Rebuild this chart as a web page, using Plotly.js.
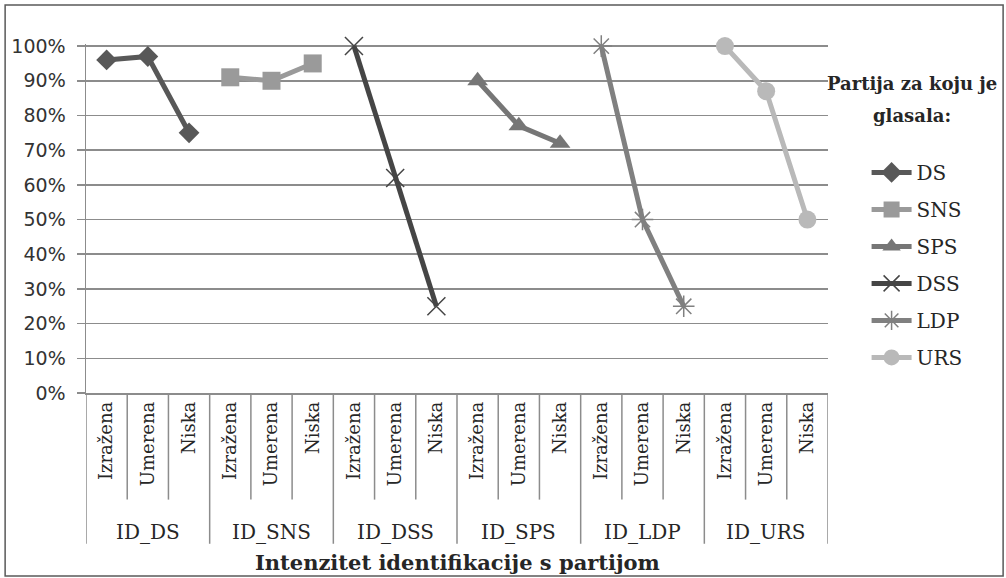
<!DOCTYPE html>
<html>
<head>
<meta charset="utf-8">
<script src="https://cdn.plot.ly/plotly-3.0.1.min.js"></script>
<style>html,body{margin:0;padding:0;background:#fff;}#chart{width:1006px;height:578px;}</style>
</head>
<body>
<div id="chart"></div>
<script>
// Groups in axis order
const groups = ['ID_DS', 'ID_SNS', 'ID_DSS', 'ID_SPS', 'ID_LDP', 'ID_URS'];
const levels = ['Izražena', 'Umerena', 'Niska'];
// Series (party voted for), listed in axis-group order
const seriesNames = ['DS', 'SNS', 'DSS', 'SPS', 'LDP', 'URS'];
const legendOrder = ['DS', 'SNS', 'SPS', 'DSS', 'LDP', 'URS'];
const valDS  = [0.96, 0.97, 0.75];
const valSNS = [0.91, 0.90, 0.95];
const valDSS = [1.00, 0.62, 0.25];
const valSPS = [0.90, 0.77, 0.72];
const valLDP = [1.00, 0.50, 0.25];
const valURS = [1.00, 0.87, 0.50];
const seriesValues = [valDS, valSNS, valDSS, valSPS, valLDP, valURS];

const styles = {
  DS:  {color: '#585858', symbol: 'diamond', size: 16},
  SNS: {color: '#9a9a9a', symbol: 'square', size: 18},
  DSS: {color: '#454545', symbol: 'x-thin-open', size: 18},
  SPS: {color: '#767676', symbol: 'triangle-up', size: 18},
  LDP: {color: '#808080', symbol: 'asterisk-open', size: 18},
  URS: {color: '#b9b9b9', symbol: 'circle', size: 18}
};

const serif = 'DejaVu Serif, Liberation Serif, serif';
const nL = levels.length;
const nCat = groups.length * nL;
const divColor = '#8c8c8c';

const traces = seriesNames.map((name, i) => {
  const st = styles[name];
  return {
    type: 'scatter',
    mode: 'lines+markers',
    name: name,
    legendgroup: name,
    legendrank: legendOrder.indexOf(name) + 1,
    x: levels.map((_, k) => i * nL + k),
    y: seriesValues[i],
    line: {color: st.color, width: 5},
    marker: {symbol: st.symbol, size: st.size, color: st.color,
             line: {color: st.color, width: st.symbol.indexOf('open') >= 0 ? 1.5 : 0}},
    cliponaxis: false
  };
});

// category tick labels
const catIdx = [];
const catText = [];
groups.forEach((g, gi) => levels.forEach((l, k) => { catIdx.push(gi * nL + k); catText.push(l); }));
const xr = [-0.5, nCat - 0.5];

// divider lines between categories (short) and between groups (long)
const shapes = [];
for (let b = 0; b <= nCat; b++) {
  const isGroup = b % nL === 0;
  shapes.push({type: 'line', xref: 'x', yref: 'paper', x0: b - 0.5, x1: b - 0.5,
    y0: 0, y1: isGroup ? -0.432 : -0.3055, line: {color: divColor, width: 1.5}});
}
shapes.push({type: 'rect', xref: 'paper', yref: 'paper', x0: -0.109, x1: 1.236, y0: -0.524, y1: 1.112,
  line: {color: '#595959', width: 1.5}, fillcolor: 'rgba(0,0,0,0)', layer: 'below'});

const annotations = groups.map((g, gi) => ({
  text: g, xref: 'x', yref: 'paper', x: gi * nL + (nL - 1) / 2, y: -0.398,
  xanchor: 'center', yanchor: 'middle', showarrow: false,
  font: {family: serif, size: 20, color: '#262626'}
}));
annotations.push(
  {text: 'Partija za koju je', xref: 'paper', yref: 'paper',
   x: 1.113, y: 0.887, xanchor: 'center', yanchor: 'middle', showarrow: false,
   font: {family: serif, size: 18, color: '#262626', weight: 'bold'}},
  {text: 'glasala:', xref: 'paper', yref: 'paper',
   x: 1.113, y: 0.795, xanchor: 'center', yanchor: 'middle', showarrow: false,
   font: {family: serif, size: 18, color: '#262626', weight: 'bold'}},
  {text: 'Intenzitet identifikacije s partijom', xref: 'paper', yref: 'paper',
   x: 0.5, y: -0.487, xanchor: 'center', yanchor: 'middle', showarrow: false,
   font: {family: serif, size: 21, color: '#262626', weight: 'bold'}}
);

const layout = {
  width: 1006, height: 578,
  margin: {l: 86, r: 178, t: 44, b: 185},
  paper_bgcolor: '#ffffff', plot_bgcolor: '#ffffff',
  showlegend: true,
  xaxis: {
    type: 'linear', range: xr,
    tickmode: 'array', tickvals: catIdx, ticktext: catText,
    showgrid: false, zeroline: false,
    showline: true, linecolor: divColor, linewidth: 1.5,
    ticks: '',
    tickangle: -90,
    tickfont: {family: serif, size: 18, color: '#262626'}
  },
  yaxis: {
    range: [0, 1.006],
    tickmode: 'linear', tick0: 0, dtick: 0.1,
    tickformat: '.0%',
    showgrid: true, gridcolor: divColor, gridwidth: 1.5,
    zeroline: false,
    showline: true, linecolor: divColor, linewidth: 1.5,
    ticks: 'outside', ticklen: 8, tickcolor: divColor, tickwidth: 1.5,
    ticklabelstandoff: 7,
    tickfont: {family: 'DejaVu Sans, sans-serif', size: 19, color: '#333333'}
  },
  legend: {
    x: 1.052, y: 0.688, xanchor: 'left', yanchor: 'top',
    font: {family: serif, size: 20, color: '#262626'},
    itemwidth: 40, tracegroupgap: 8, traceorder: 'grouped',
    bgcolor: 'rgba(0,0,0,0)'
  },
  annotations: annotations,
  shapes: shapes
};

Plotly.newPlot('chart', traces, layout, {displayModeBar: false, staticPlot: true});
</script>
</body>
</html>
